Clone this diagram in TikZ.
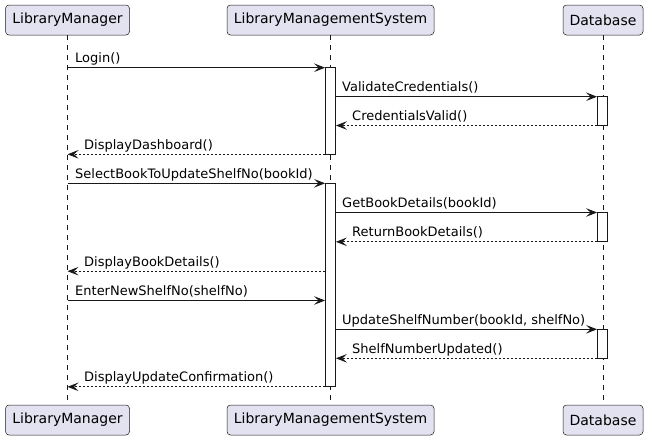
\documentclass[tikz,border=0pt]{standalone}
\usepackage{fontspec}
\setmainfont{DejaVu Sans}
\usetikzlibrary{arrows.meta}
\definecolor{lnc}{HTML}{181818}
\definecolor{pfill}{HTML}{E2E2F0}
\tikzset{
  participant/.style={draw=lnc, fill=pfill, rounded corners=3.5pt, line width=0.5pt,
    minimum height=30, inner sep=0pt, font=\fontsize{14}{16}\selectfont},
  lifeline/.style={draw=lnc, line width=0.5pt, dash pattern=on 5pt off 5pt},
  actbar/.style={draw=lnc, fill=white, line width=0.8pt, minimum width=10, inner sep=0pt},
  msg/.style={draw=lnc, line width=0.9pt, -{Stealth[length=11pt,width=8.5pt,inset=4.5pt]}},
  ret/.style={msg, dash pattern=on 2pt off 2pt},
  lbl/.style={anchor=base west, inner sep=0pt, font=\fontsize{13}{15}\selectfont}
}
\begin{document}
\begin{tikzpicture}[x=1pt,y=-1pt]
\useasboundingbox (0,0) rectangle (648,440);
% participants
\node[participant, minimum width=124] (lmT) at (67.5,20) {LibraryManager};
\node[participant, minimum width=207] (lsT) at (330.5,20) {LibraryManagementSystem};
\node[participant, minimum width=80] (dbT) at (603,20) {Database};
\node[participant, minimum width=124] (lmB) at (67.5,420) {LibraryManager};
\node[participant, minimum width=207] (lsB) at (330.5,420) {LibraryManagementSystem};
\node[participant, minimum width=80] (dbB) at (603,420) {Database};
% lifelines
\draw[lifeline] (lmT.south) -- (lmB.north);
\draw[lifeline] (lsT.south) -- (lsB.north);
\draw[lifeline] (dbT.south) -- (dbB.north);
% activation bars
\node[actbar, minimum height=86.6] (a1) at (330.5,111.0) {};
\node[actbar, minimum height=203.5] (a2) at (330.5,285.05) {};
\node[actbar, minimum height=28.8] (d1) at (602.5,111.1) {};
\node[actbar, minimum height=29.3] (d2) at (602.5,227.15) {};
\node[actbar, minimum height=29.0] (d3) at (602.5,343.8) {};
% messages
\draw[msg] (lmT.south |- 0,67.7) -- (a1.west |- 0,67.7);
\node[lbl] (t0) at (75,62.7) {Login()};
\draw[msg] (a1.east |- 0,96.7) -- (d1.west |- 0,96.7);
\node[lbl] (t1) at (342,91.7) {ValidateCredentials()};
\draw[ret] (d1.west |- 0,125.5) -- (a1.east |- 0,125.5);
\node[lbl] (t2) at (352,120.5) {CredentialsValid()};
\draw[ret] (a1.west |- 0,154.3) -- (lmT.south |- 0,154.3);
\node[lbl] (t3) at (84,149.3) {DisplayDashboard()};
\draw[msg] (lmT.south |- 0,183.3) -- (a2.west |- 0,183.3);
\node[lbl] (t4) at (75,178.3) {SelectBookToUpdateShelfNo(bookId)};
\draw[msg] (a2.east |- 0,212.5) -- (d2.west |- 0,212.5);
\node[lbl] (t5) at (342,207.5) {GetBookDetails(bookId)};
\draw[ret] (d2.west |- 0,241.8) -- (a2.east |- 0,241.8);
\node[lbl] (t6) at (352,236.8) {ReturnBookDetails()};
\draw[ret] (a2.west |- 0,271.2) -- (lmT.south |- 0,271.2);
\node[lbl] (t7) at (84,266.2) {DisplayBookDetails()};
\draw[msg] (lmT.south |- 0,300.5) -- (a2.west |- 0,300.5);
\node[lbl] (t8) at (75,295.5) {EnterNewShelfNo(shelfNo)};
\draw[msg] (a2.east |- 0,329.3) -- (d3.west |- 0,329.3);
\node[lbl] (t9) at (342,324.3) {UpdateShelfNumber(bookId, shelfNo)};
\draw[ret] (d3.west |- 0,358.3) -- (a2.east |- 0,358.3);
\node[lbl] (t10) at (352,353.3) {ShelfNumberUpdated()};
\draw[ret] (a2.west |- 0,386.8) -- (lmT.south |- 0,386.8);
\node[lbl] (t11) at (84,381.8) {DisplayUpdateConfirmation()};
\end{tikzpicture}
\end{document}
